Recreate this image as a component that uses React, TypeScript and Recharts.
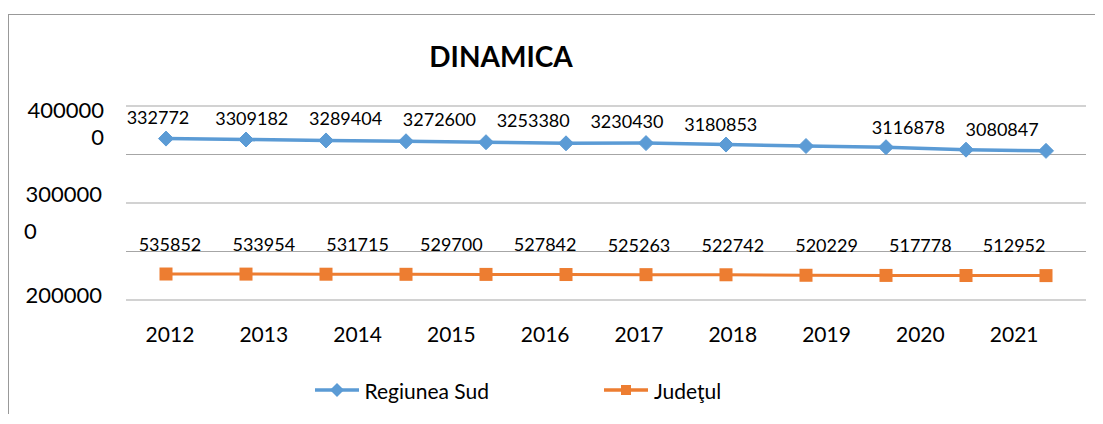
import {
  LineChart,
  Line,
  XAxis,
  YAxis,
  CartesianGrid,
  LabelList,
  Legend,
} from "recharts";

const FONT = "Lato, 'Open Sans', sans-serif";
const BLUE = "#5B9BD5";
const ORANGE = "#ED7D31";

// 12 plotted points per series
const POINT_INDEX = [0, 1, 2, 3, 4, 5, 6, 7, 8, 9, 10, 11];
const REGIUNEA_SUD = [
  3327720, 3309182, 3289404, 3272600, 3253380, 3230430, 3235000, 3205000,
  3175000, 3150000, 3100000, 3075000,
];
const JUDETUL = [
  535852, 533954, 531715, 529700, 527842, 525263, 522742, 520229, 510000,
  507000, 505000, 503000,
];
const SERIES_NAMES = ["Regiunea Sud", "Judeţul"];

// category labels (10 years)
const YEARS = ["2012", "2013", "2014", "2015", "2016", "2017", "2018", "2019", "2020", "2021"];

// data labels as printed on the chart
const SUD_LABELS = ["332772", "3309182", "3289404", "3272600", "3253380", "3230430", "3180853", "3116878", "3080847"];
const SUD_LABEL_VALUES = [3327720, 3309182, 3289404, 3272600, 3253380, 3230430, 3180853, 3116878, 3080847];
const SUD_LABEL_SLOTS = [0, 1, 2, 3, 4, 5, 6, 8, 9];
const JUD_LABELS = ["535852", "533954", "531715", "529700", "527842", "525263", "522742", "520229", "517778", "512952"];

// value axis
const Y_TICKS = [0, 1000000, 2000000, 3000000, 4000000];
const Y_TICK_LINES: Record<number, string[]> = {
  0: ["200000"],
  2000000: ["300000", "0"],
  4000000: ["400000", "0"],
};

const pointData = POINT_INDEX.map((idx) => ({
  idx,
  sud: REGIUNEA_SUD[idx],
  jud: JUDETUL[idx],
}));

const sudLabelData = SUD_LABELS.map((text, i) => ({
  pos: SUD_LABEL_SLOTS[i],
  v: SUD_LABEL_VALUES[i],
  text,
}));

const judLabelData = JUD_LABELS.map((text, i) => ({
  pos: i,
  v: Number(text),
  text,
}));

const Diamond = ({ cx, cy }: any) => {
  if (cx == null || cy == null) return null;
  const r = 7.5;
  return (
    <polygon
      points={`${cx},${cy - r} ${cx + r},${cy} ${cx},${cy + r} ${cx - r},${cy}`}
      fill={BLUE}
      stroke={BLUE}
      strokeWidth={1}
    />
  );
};

const Square = ({ cx, cy }: any) => {
  if (cx == null || cy == null) return null;
  const s = 13;
  return <rect x={cx - s / 2} y={cy - s / 2} width={s} height={s} fill={ORANGE} />;
};

const YTick = ({ x, y, payload }: any) => {
  const lines = Y_TICK_LINES[payload.value];
  if (!lines) return null;
  const style = { fontFamily: FONT, fontSize: 22, fill: "#000" };
  if (payload.value === 4000000) {
    return (
      <g>
        <text x={x - 22} y={y + 3} textAnchor="end" dominantBaseline="central" style={style}>{lines[0]}</text>
        <text x={x - 22} y={y + 30} textAnchor="end" dominantBaseline="central" style={style}>{lines[1]}</text>
      </g>
    );
  }
  if (payload.value === 2000000) {
    return (
      <g>
        <text x={x - 24} y={y - 10} textAnchor="end" dominantBaseline="central" style={style}>{lines[0]}</text>
        <text x={x - 102} y={y + 27} textAnchor="start" dominantBaseline="central" style={style}>{lines[1]}</text>
      </g>
    );
  }
  return (
    <text x={x - 24} y={y - 6} textAnchor="end" dominantBaseline="central" style={style}>{lines[0]}</text>
  );
};

const YearTick = ({ x, y, payload }: any) => (
  <text
    x={x}
    y={y + 3}
    textAnchor="middle"
    dominantBaseline="central"
    style={{ fontFamily: FONT, fontSize: 21, fill: "#000" }}
  >
    {YEARS[payload.value]}
  </text>
);

const makeLabel = (dy: number, dx: number) => (props: any) => {
  const { x, y, value } = props;
  return (
    <text
      x={x + dx}
      y={y + dy}
      textAnchor="middle"
      dominantBaseline="central"
      style={{ fontFamily: FONT, fontSize: 18, fill: "#000" }}
    >
      {value}
    </text>
  );
};

const LegendIcon = ({ color, name }: { color: string; name: string }) => (
  <svg width={44} height={20} style={{ display: "block" }}>
    <line x1={0} y1={10} x2={44} y2={10} stroke={color} strokeWidth={3.5} />
    {name === "Regiunea Sud" ? (
      <polygon points="22,3 29,10 22,17 15,10" fill={color} />
    ) : (
      <rect x={17} y={5} width={10} height={10} fill={color} />
    )}
  </svg>
);

const CustomLegend = ({ payload }: any) => {
  const items = SERIES_NAMES.map((name) =>
    (payload || []).find((p: any) => p.value === name)
  ).filter(Boolean);
  return (
    <div style={{ display: "flex", alignItems: "center", paddingLeft: 307, gap: 115 }}>
      {items.map((entry: any, i: number) => (
        <div key={`leg-${i}`} style={{ display: "flex", alignItems: "center", gap: 6 }}>
          <LegendIcon color={entry.color} name={entry.value} />
          <span style={{ fontFamily: FONT, fontSize: 21, color: "#000" }}>{entry.value}</span>
        </div>
      ))}
    </div>
  );
};

export default function App() {
  return (
    <div
      style={{
        position: "relative",
        width: 1095,
        height: 400,
        marginTop: 6,
        borderTop: "1.5px solid #999",
        borderLeft: "1.5px solid #999",
        boxSizing: "border-box",
        background: "#fff",
      }}
    >
      <div
        style={{
          position: "absolute",
          left: 492,
          top: 24,
          transform: "translateX(-50%)",
          fontFamily: FONT,
          fontWeight: 700,
          fontSize: 28,
          color: "#000",
          whiteSpace: "nowrap",
          zIndex: 2,
        }}
      >
        DINAMICA
      </div>
      <div style={{ position: "absolute", left: -1.5, top: -1.5 }}>
        <LineChart
          width={1095}
          height={400}
          data={pointData}
          margin={{ top: 92, right: 17, bottom: 54, left: 8 }}
        >
          <CartesianGrid vertical={false} stroke="#a6a6a6" strokeWidth={1.2} />
          <XAxis
            dataKey="idx"
            type="number"
            domain={[-0.5, 11.5]}
            allowDataOverflow
            hide
          />
          <XAxis
            xAxisId="years"
            dataKey="pos"
            type="number"
            domain={[-0.469, 9.766]}
            ticks={[0, 1, 2, 3, 4, 5, 6, 7, 8, 9]}
            allowDataOverflow
            axisLine={false}
            tickLine={false}
            tickSize={0}
            tickMargin={0}
            height={60}
            interval={0}
            tick={<YearTick />}
          />
          <YAxis
            domain={[0, 4000000]}
            ticks={Y_TICKS}
            allowDataOverflow
            axisLine={false}
            tickLine={false}
            tickSize={0}
            tickMargin={0}
            width={110}
            interval={0}
            tick={<YTick />}
          />
          <Line
            dataKey="sud"
            name={SERIES_NAMES[0]}
            stroke={BLUE}
            strokeWidth={3.5}
            dot={<Diamond />}
            activeDot={false}
            isAnimationActive={false}
          />
          <Line
            dataKey="jud"
            name={SERIES_NAMES[1]}
            stroke={ORANGE}
            strokeWidth={3}
            dot={<Square />}
            activeDot={false}
            isAnimationActive={false}
          />
          <Line
            xAxisId="years"
            data={sudLabelData}
            dataKey="v"
            stroke="none"
            dot={false}
            activeDot={false}
            legendType="none"
            isAnimationActive={false}
          >
            <LabelList dataKey="text" content={makeLabel(-22, -12)} />
          </Line>
          <Line
            xAxisId="years"
            data={judLabelData}
            dataKey="v"
            stroke="none"
            dot={false}
            activeDot={false}
            legendType="none"
            isAnimationActive={false}
          >
            <LabelList dataKey="text" content={makeLabel(-30, 0)} />
          </Line>
          <Legend
            layout="horizontal"
            verticalAlign="middle"
            align="center"
            wrapperStyle={{ top: 364, left: 0, width: 1095 }}
            content={<CustomLegend />}
          />
        </LineChart>
      </div>
    </div>
  );
}
